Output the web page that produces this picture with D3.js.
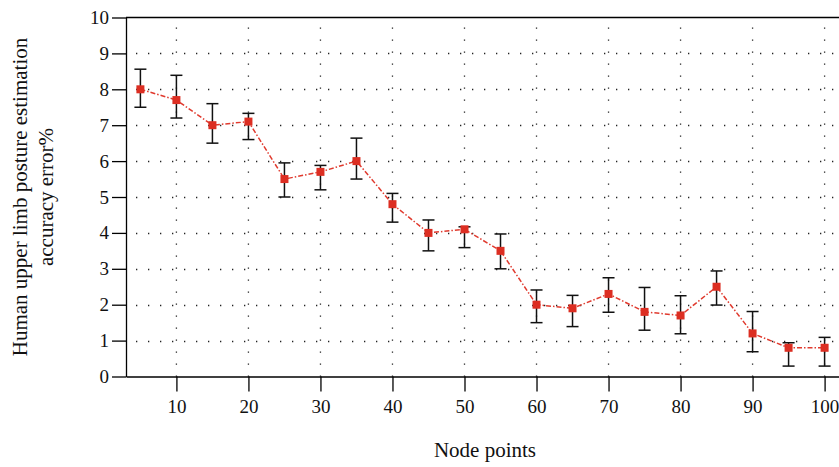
<!DOCTYPE html>
<html>
<head>
<meta charset="utf-8">
<script src="https://cdn.jsdelivr.net/npm/d3@7"></script>
<style>
  body { margin: 0; background: #fff; }
  svg { display: block; font-family: "Liberation Serif", "DejaVu Serif", serif; }
</style>
</head>
<body>
<svg id="chart" width="839" height="467"></svg>
<script>
const nodePoints = [5, 10, 15, 20, 25, 30, 35, 40, 45, 50, 55, 60, 65, 70, 75, 80, 85, 90, 95, 100];
const errorValues = [8.0, 7.7, 7.0, 7.1, 5.5, 5.7, 6.0, 4.8, 4.0, 4.1, 3.5, 2.0, 1.9, 2.3, 1.8, 1.7, 2.5, 1.2, 0.8, 0.8];
const upperBounds = [8.56, 8.39, 7.6, 7.33, 5.95, 5.88, 6.64, 5.1, 4.36, 4.17, 3.97, 2.41, 2.26, 2.75, 2.48, 2.25, 2.94, 1.81, 0.94, 1.09];
const lowerBounds = [7.5, 7.2, 6.5, 6.6, 5.0, 5.2, 5.5, 4.3, 3.5, 3.59, 3.0, 1.5, 1.39, 1.79, 1.29, 1.19, 1.99, 0.69, 0.29, 0.29];
const xTicks = [10, 20, 30, 40, 50, 60, 70, 80, 90, 100];
const yTicks = [0, 1, 2, 3, 4, 5, 6, 7, 8, 9, 10];

const svg = d3.select('#chart');
const plotLeft = 126, plotRight = 839, plotTop = 17.5, plotBottom = 376.5;

const x = d3.scaleLinear().domain([3, 102]).range([plotLeft, plotRight]);
const y = d3.scaleLinear().domain([0, 10]).range([plotBottom, plotTop]);

const data = nodePoints.map((n, i) => ({ n, v: errorValues[i], hi: upperBounds[i], lo: lowerBounds[i] }));

// grid
const grid = svg.append('g').attr('stroke', '#222').attr('stroke-width', 1.3)
    .attr('stroke-dasharray', '1.3,10.7');

grid.selectAll('.hg').data(yTicks.slice(1, -1)).join('line')
    .attr('x1', plotLeft + 10).attr('x2', plotRight)
    .attr('y1', d => Math.round(y(d)) + 0.5).attr('y2', d => Math.round(y(d)) + 0.5);

grid.selectAll('.vg').data(xTicks).join('line')
    .attr('x1', d => x(d)).attr('x2', d => x(d))
    .attr('y1', plotTop + 10).attr('y2', plotBottom);

// top border
svg.append('line')
    .attr('x1', plotLeft).attr('x2', plotRight)
    .attr('y1', plotTop).attr('y2', plotTop)
    .attr('stroke', '#000').attr('stroke-width', 1.3);

// axes
const yAxis = svg.append('g')
    .attr('transform', `translate(${plotLeft},0)`)
    .call(d3.axisLeft(y).tickValues(yTicks).tickSize(14).tickPadding(3).tickSizeOuter(0));

const xAxis = svg.append('g')
    .attr('transform', `translate(0,${plotBottom})`)
    .call(d3.axisBottom(x).tickValues(xTicks).tickSize(15).tickPadding(8).tickSizeOuter(0));

[xAxis, yAxis].forEach(a => {
    a.selectAll('path, line').attr('stroke', '#000').attr('stroke-width', 1.3);
    a.selectAll('text').attr('fill', '#111').style('font-size', '19px')
        .style('font-family', '"Liberation Serif", "DejaVu Serif", serif');
});

// error bars
const eb = svg.append('g').attr('stroke', '#111').attr('stroke-width', 1.5);
eb.selectAll('.stem').data(data).join('line')
    .attr('x1', d => x(d.n)).attr('x2', d => x(d.n))
    .attr('y1', d => y(d.hi)).attr('y2', d => y(d.lo));
eb.selectAll('.capHi').data(data).join('line')
    .attr('x1', d => x(d.n) - 6).attr('x2', d => x(d.n) + 6)
    .attr('y1', d => y(d.hi)).attr('y2', d => y(d.hi));
eb.selectAll('.capLo').data(data).join('line')
    .attr('x1', d => x(d.n) - 6).attr('x2', d => x(d.n) + 6)
    .attr('y1', d => y(d.lo)).attr('y2', d => y(d.lo));

// series line
const line = d3.line().x(d => x(d.n)).y(d => y(d.v));
svg.append('path')
    .datum(data)
    .attr('d', line)
    .attr('fill', 'none')
    .attr('stroke', '#e03a2e')
    .attr('stroke-width', 1.5)
    .attr('stroke-dasharray', '5,2,1.5,2');

svg.append('g').selectAll('rect').data(data).join('rect')
    .attr('x', d => x(d.n) - 4).attr('y', d => y(d.v) - 4)
    .attr('width', 8).attr('height', 8)
    .attr('fill', '#dc2e22');

// labels
svg.append('text')
    .attr('x', 485).attr('y', 457)
    .attr('text-anchor', 'middle')
    .attr('fill', '#111')
    .style('font-size', '21px')
    .text('Node points');

const yl = svg.append('text')
    .attr('transform', 'translate(0,197) rotate(-90)')
    .attr('text-anchor', 'middle')
    .attr('fill', '#111')
    .style('font-size', '21px');
yl.append('tspan').attr('x', 0).attr('y', 27).text('Human upper limb posture estimation');
yl.append('tspan').attr('x', 0).attr('y', 53).text('accuracy error%');
</script>
</body>
</html>
